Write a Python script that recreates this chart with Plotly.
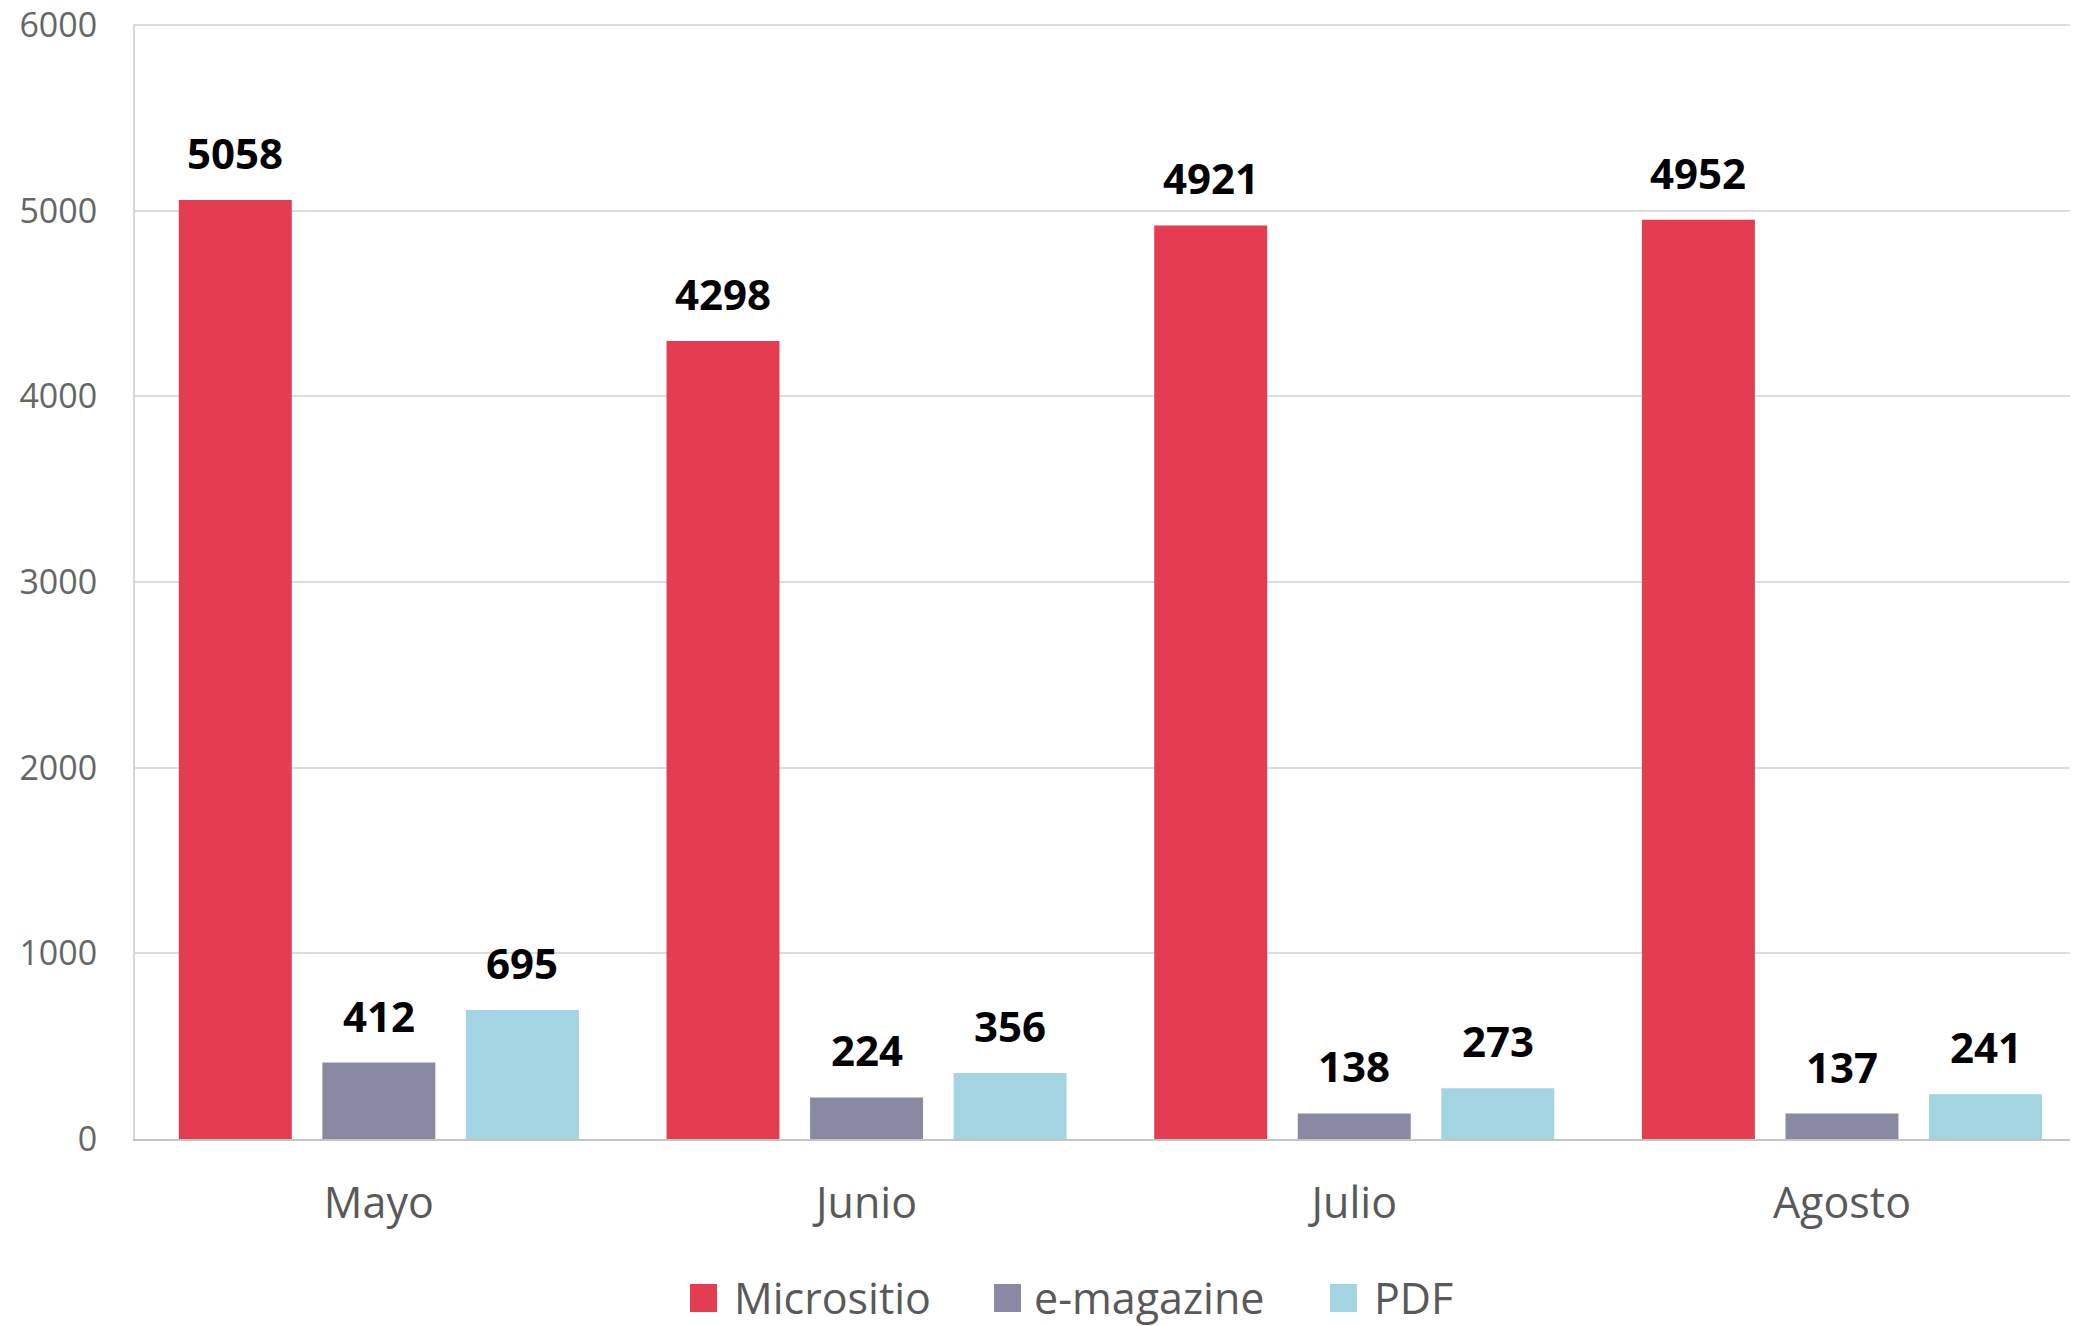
import plotly.graph_objects as go

months = ["Mayo", "Junio", "Julio", "Agosto"]
series_names = ["Micrositio", "e-magazine", "PDF"]
micrositio = [5058, 4298, 4921, 4952]
emagazine = [412, 224, 138, 137]
pdf = [695, 356, 273, 241]
colors = ["#E43D51", "#8A89A3", "#A3D4E2"]
y_ticks = [0, 1000, 2000, 3000, 4000, 5000, 6000]

OFF = 8  # browser body margin
W, H = 2070, 1318
ML, MR, MT, MB = 127, 0, 16, 187
bargap = 0.117
bargroupgap = 0.213

fig = go.Figure()
all_series = [micrositio, emagazine, pdf]
for name, vals, col in zip(series_names, all_series, colors):
    fig.add_trace(go.Bar(x=months, y=vals, name=name, marker=dict(color=col, line=dict(width=0)),
                         showlegend=False))

# data labels
slot = (1 - bargap) / 3
annotations = []
for j, vals in enumerate(all_series):
    for i, v in enumerate(vals):
        annotations.append(dict(x=i + (j - 1) * slot, y=v, xref="x", yref="y", text=str(v),
                                showarrow=False, yanchor="bottom", yshift=17,
                                font=dict(family="Open Sans", size=42, color="#000000", weight="bold")))

# custom legend (page pixel positions -> paper coords)
pw = W - ML - MR
ph = H - MT - MB
def px2x(px):
    return (px - OFF - ML) / pw
def px2y(py):
    return (H - MB - (py - OFF)) / ph

legend_items = [(690, 732), (994, 1032), (1330, 1372)]
shapes = []
for (sx, tx), name, col in zip(legend_items, series_names, colors):
    shapes.append(dict(type="rect", xref="paper", yref="paper",
                       x0=px2x(sx), x1=px2x(sx + 27), y0=px2y(1312), y1=px2y(1284),
                       fillcolor=col, line=dict(width=0)))
    annotations.append(dict(x=px2x(tx), y=px2y(1297), xref="paper", yref="paper", text=name,
                            showarrow=False, xanchor="left", yanchor="middle",
                            font=dict(family="Open Sans", size=43, color="#595959")))

fig.update_layout(
    width=W, height=H,
    margin=dict(l=ML, r=MR, t=MT, b=MB, pad=0, autoexpand=False),
    paper_bgcolor="white", plot_bgcolor="white",
    barmode="group", bargap=bargap, bargroupgap=bargroupgap,
    annotations=annotations, shapes=shapes,
    showlegend=False,
    xaxis=dict(range=[-0.5, 3.484], showline=True, linecolor="#C4C4C4", linewidth=2,
               showgrid=False, ticks="", ticklabelstandoff=25, automargin=False,
               tickfont=dict(family="Open Sans", size=43, color="#595959")),
    yaxis=dict(range=[0, 6006], tickvals=y_ticks, showline=True, linecolor="#D6D6D6", linewidth=2,
               showgrid=True, gridcolor="#DCDCDC", gridwidth=2, zeroline=False, ticks="",
               ticklabelstandoff=29, ticklabeloverflow="allow", automargin=False,
               tickfont=dict(family="Open Sans", size=34, color="#666666")),
)

fig.write_html("out.html")
